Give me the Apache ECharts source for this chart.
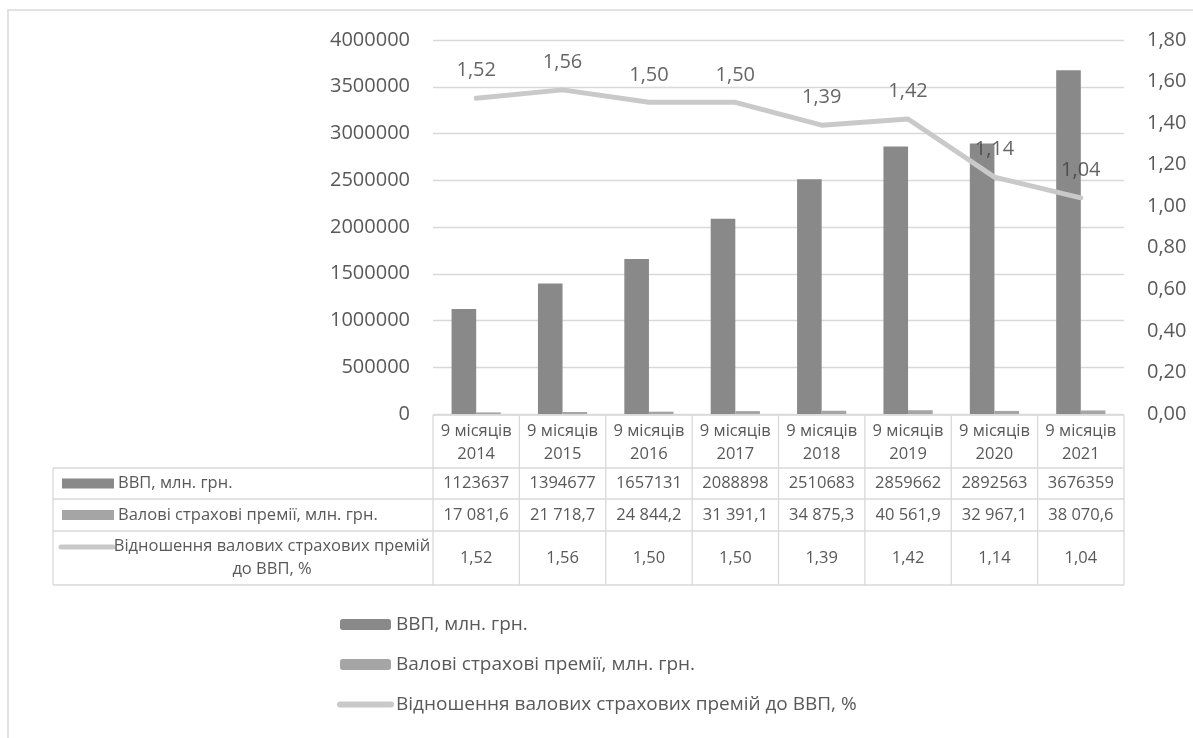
<!DOCTYPE html>
<html>
<head>
<meta charset="utf-8">
<script src="https://cdn.jsdelivr.net/npm/echarts@6/dist/echarts.min.js"></script>
<style>
html,body{margin:0;padding:0;background:#fff;}
#c{width:1193px;height:738px;}
</style>
</head>
<body>
<div id="c"></div>
<script>
const categories = ['9 місяців\n2014','9 місяців\n2015','9 місяців\n2016','9 місяців\n2017','9 місяців\n2018','9 місяців\n2019','9 місяців\n2020','9 місяців\n2021'];
const gdp = [1123637, 1394677, 1657131, 2088898, 2510683, 2859662, 2892563, 3676359];
const premiums = [17081.6, 21718.7, 24844.2, 31391.1, 34875.3, 40561.9, 32967.1, 38070.6];
const ratio = [1.52, 1.56, 1.50, 1.50, 1.39, 1.42, 1.14, 1.04];
const seriesNames = ['ВВП, млн. грн.', 'Валові страхові премії, млн. грн.', 'Відношення валових страхових премій до ВВП, %'];
const rowLabels = ['ВВП, млн. грн.', 'Валові страхові премії, млн. грн.', 'Відношення валових страхових премій\nдо ВВП, %'];
const leftAxis = {min: 0, max: 4000000, interval: 500000};
const rightAxis = {min: 0, max: 1.8, interval: 0.2};

const FONT = '"Open Sans", "DejaVu Sans", sans-serif';
const TXT = '#595959';
const GRIDC = '#d9d9d9';
const C_GDP = '#898989';
const C_PREM = '#a5a5a5';
const C_LINE = '#c9c9c9';

function fmtComma(v, d){ return v.toFixed(d).replace('.', ','); }
function fmtPrem(v){
  const s = v.toFixed(1).split('.');
  return s[0].replace(/\B(?=(\d{3})+(?!\d))/g, ' ') + ',' + s[1];
}

const chart = echarts.init(document.getElementById('c'), null, {renderer:'canvas'});
const option = {
  animation: false,
  textStyle: {fontFamily: FONT},
  grid: {left: 433, right: 69, top: 40, bottom: 324},
  xAxis: {
    type: 'category', data: categories,
    axisLine: {show: false}, axisTick: {show: false}, axisLabel: {show: false}
  },
  yAxis: [
    {type: 'value', min: leftAxis.min, max: leftAxis.max, interval: leftAxis.interval,
     axisLine: {show: false}, axisTick: {show: false},
     axisLabel: {color: TXT, fontSize: 20, fontFamily: FONT, margin: 23, formatter: v => String(v)},
     splitLine: {lineStyle: {color: GRIDC, width: 1.3}}},
    {type: 'value', min: rightAxis.min, max: rightAxis.max, interval: rightAxis.interval,
     axisLine: {show: false}, axisTick: {show: false},
     axisLabel: {color: TXT, fontSize: 20, fontFamily: FONT, margin: 23, formatter: v => fmtComma(v, 2)},
     splitLine: {show: false}}
  ],
  legend: {
    orient: 'vertical', left: 332, top: 610,
    itemWidth: 51, itemHeight: 11, itemGap: 21,
    textStyle: {color: TXT, fontSize: 19, fontFamily: FONT},
    data: [
      {name: seriesNames[0]},
      {name: seriesNames[1]},
      {name: seriesNames[2], itemStyle: {opacity: 0}, lineStyle: {width: 6, cap: 'round', color: C_LINE}}
    ]
  },
  series: [
    {name: seriesNames[0], type: 'bar', data: gdp, itemStyle: {color: C_GDP}, barGap: '0%', barCategoryGap: '43%', z: 2},
    {name: seriesNames[1], type: 'bar', data: premiums, itemStyle: {color: C_PREM}, z: 2},
    {name: seriesNames[2], type: 'line', yAxisIndex: 1, data: ratio, symbol: 'none',
     lineStyle: {color: C_LINE, width: 5, cap: 'round', join: 'round'}, itemStyle: {color: C_LINE}, z: 3},
    {name: 'labels', type: 'scatter', yAxisIndex: 1, data: ratio, symbolSize: 1,
     itemStyle: {color: 'rgba(0,0,0,0)'}, z: 4, silent: true,
     label: {show: true, position: 'top', distance: 17, color: '#404040', fontSize: 20, fontFamily: FONT,
       formatter: p => fmtComma(p.value, 2)}}
  ]
};
chart.setOption(option);

// Data table under the plot, positioned from the axis scales
const centers = categories.map((c, i) => chart.convertToPixel({xAxisIndex: 0}, i));
const colW = centers[1] - centers[0];
const plotL = centers[0] - colW / 2;
const plotR = centers[centers.length - 1] + colW / 2;
const y0 = chart.convertToPixel({yAxisIndex: 0}, 0) + 1;
const tableL = 53;
const rowH = [53, 31, 32, 54];
const ys = [y0];
rowH.forEach(h => ys.push(ys[ys.length - 1] + h));
const els = [];
const line = (x1, y1, x2, y2) => els.push({type: 'line', silent: true, z: 10,
  shape: {x1, y1, x2, y2}, style: {stroke: GRIDC, lineWidth: 1.3}});
const text = (x, y, t, align, size) => els.push({type: 'text', silent: true, z: 11, x, y,
  style: {text: t, fill: TXT, fontSize: size || 16.5, fontFamily: FONT, align: align || 'center', verticalAlign: 'middle', lineHeight: 23}});
line(plotL, ys[0], plotR, ys[0]);
for (let r = 1; r < ys.length; r++) line(tableL, ys[r], plotR, ys[r]);
line(tableL, ys[1], tableL, ys[4]);
for (let i = 0; i <= categories.length; i++) {
  const x = plotL + i * colW;
  line(x, ys[0], x, ys[4]);
}
const rows = [gdp.map(v => String(v)), premiums.map(fmtPrem), ratio.map(v => fmtComma(v, 2))];
categories.forEach((c, i) => {
  text(centers[i], (ys[0] + ys[1]) / 2 + 1, c);
  rows.forEach((r, k) => text(centers[i], (ys[k + 1] + ys[k + 2]) / 2, r[i]));
});
const cy1 = (ys[1] + ys[2]) / 2, cy2 = (ys[2] + ys[3]) / 2, cy3 = (ys[3] + ys[4]) / 2;
els.push({type: 'rect', silent: true, z: 11, shape: {x: 62, y: cy1 - 5, width: 52, height: 10}, style: {fill: C_GDP}});
text(118, cy1, rowLabels[0], 'left');
els.push({type: 'rect', silent: true, z: 11, shape: {x: 62, y: cy2 - 5, width: 52, height: 10}, style: {fill: C_PREM}});
text(118, cy2, rowLabels[1], 'left');
els.push({type: 'line', silent: true, z: 11, shape: {x1: 61, y1: cy3 - 11, x2: 113, y2: cy3 - 11},
  style: {stroke: C_LINE, lineWidth: 5, lineCap: 'round'}});
text(272, cy3, rowLabels[2], 'center');
els.push({type: 'rect', silent: true, z: 0, shape: {x: 8, y: 10, width: 1300, height: 800},
  style: {fill: 'none', stroke: GRIDC, lineWidth: 1.5}});
chart.setOption({graphic: els});
</script>
</body>
</html>
